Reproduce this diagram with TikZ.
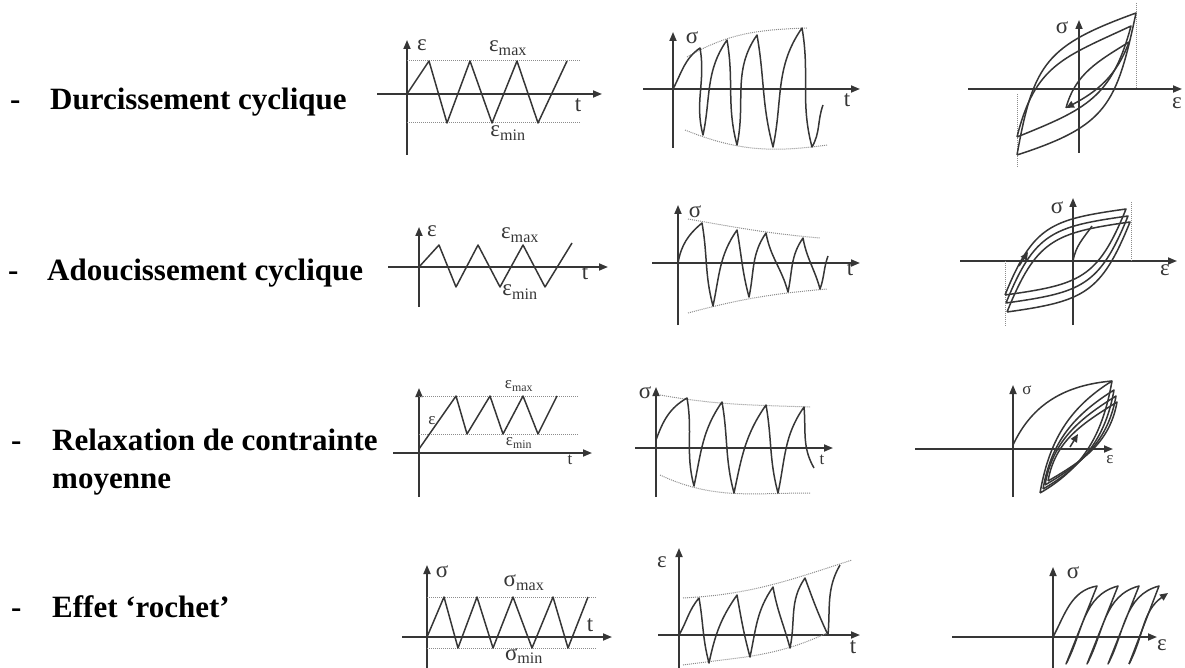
\documentclass[tikz,border=0pt]{standalone}
\usepackage{fontspec}
\setmainfont{Liberation Serif}
\usetikzlibrary{arrows.meta}
\definecolor{ink}{HTML}{363636}
\definecolor{dots}{HTML}{8C8C8C}

\begin{document}
\begin{tikzpicture}[x=1pt, y=1pt, every node/.style={inner sep=0pt}, ax/.style={-{Triangle[length=9pt,width=7pt]}, line width=1.7pt, draw=ink}, crv/.style={line width=1.5pt, draw=ink, line join=round}, tip/.style={crv, -{Triangle[length=8pt,width=7pt]}}, env/.style={densely dotted, line width=1pt, draw=dots}, rise/.style={out=78,in=235}, fall/.style={out=-80,in=105}, lbl/.style={font=\fontsize{23}{26}\selectfont, text=ink}, sml/.style={font=\fontsize{17}{20}\selectfont, text=ink}, row/.style={font=\fontsize{31}{36}\selectfont\bfseries, anchor=base west}]
\useasboundingbox (0,0) rectangle (1185,-668);
% left column: the four cases
\node[row] (d1) at (10,-110) {-};
\node[row] (t1) at (50,-110) {Durcissement cyclique};
\node[row] (d2) at (8,-280) {-};
\node[row] (t2) at (47,-280) {Adoucissement cyclique};
\node[row] (d3) at (11,-450) {-};
\node[row] (t3) at (52,-450) {Relaxation de contrainte};
\node[row] (t3b) at (52,-488) {moyenne};
\node[row] (d4) at (11,-617) {-};
\node[row] (t4) at (52,-617) {Effet ‘rochet’};
% row 1: imposed strain, stress in time, loops
\draw[ax] (407,-155) -- (407,-40);
\draw[ax] (377,-94) -- (602,-94);
\draw[env] (407,-61) -- (580,-61);
\draw[env] (407,-123) -- (580,-123);
\draw[crv] (407,-94) -- (429,-61) -- (447,-123) -- (470,-61) -- (492,-123) -- (517,-61) -- (538,-123) -- (567,-61);
\node[lbl] (e1) at (422,-45) {ε};
\node[lbl] (e1max) at (508,-48) {ε\textsubscript{max}};
\node[lbl] (e1min) at (508,-133) {ε\textsubscript{min}};
\node[lbl] (t1a) at (578,-105) {t};
\draw[ax] (673,-148) -- (673,-32);
\draw[ax] (643,-89) -- (860,-89);
\draw[env] (687,-57) to[out=30,in=182] (807,-28);
\draw[env] (685,-130) to[out=-22,in=188] (827,-145);
\draw[crv] (673,-89) to[out=62,in=215] (700,-48) to[fall] (703,-135) to[rise] (727,-40) to[fall] (737,-145) to[rise] (757,-35) to[fall] (773,-147) to[rise] (802,-28) to[fall] (812,-147) to[out=60,in=250] (823,-105);
\node[lbl] (s1) at (692,-38) {σ};
\node[lbl] (t1b) at (847,-100) {t};
\draw[ax] (1079,-153) -- (1079,-20);
\draw[ax] (968,-89) -- (1182,-89);
\draw[env] (1017,-94) -- (1017,-167);
\draw[env] (1136,-3) -- (1136,-89);
\draw[crv] (1017,-155) to[out=80,in=200,looseness=1.3] (1136,-13) to[out=258,in=18,looseness=1.3] (1017,-155);
\draw[crv] (1017,-137) to[out=76,in=205,looseness=1.2] (1131,-26) to[out=255,in=22,looseness=1.2] (1017,-137);
\draw[crv] (1066,-108) to[out=75,in=212] (1129,-42);
\draw[tip] (1129,-42) to[out=250,in=28] (1066,-108);
\node[lbl] (s1h) at (1062,-28) {σ};
\node[lbl] (e1h) at (1177,-103) {ε};
% row 2: same strain, stress decays
\draw[ax] (419,-307) -- (419,-227);
\draw[ax] (388,-267) -- (608,-267);
\draw[crv] (419,-267) -- (439,-245) -- (456,-287) -- (478,-245) -- (500,-287) -- (523,-245) -- (545,-287) -- (572,-243);
\node[lbl] (e2) at (432,-231) {ε};
\node[lbl] (e2max) at (520,-235) {ε\textsubscript{max}};
\node[lbl] (e2min) at (520,-292) {ε\textsubscript{min}};
\node[lbl] (t2a) at (585,-273) {t};
\draw[ax] (678,-325) -- (678,-205);
\draw[ax] (652,-263) -- (860,-263);
\draw[env] (688,-219) to[out=-10,in=175] (820,-238);
\draw[env] (688,-313) to[out=15,in=185] (827,-289);
\draw[crv] (678,-263) to[out=80,in=220] (702,-223) to[fall] (713,-306) to[rise] (737,-230) to[fall] (749,-297) to[rise] (766,-233) to[fall] (788,-292) to[rise] (803,-238) to[fall] (820,-289) to[out=70,in=250] (828,-256);
\node[lbl] (s2) at (695,-212) {σ};
\node[lbl] (t2b) at (850,-269) {t};
\draw[ax] (1073,-325) -- (1073,-198);
\draw[ax] (960,-261) -- (1177,-261);
\draw[env] (1005,-261) -- (1005,-327);
\draw[env] (1131,-202) -- (1131,-261);
\foreach \bx/\by/\tx/\ty in {1005/295/1126/209, 1006/303/1128/216, 1007/312/1130/222}
  \draw[crv] (\bx,-\by) to[out=68,in=188,looseness=1.3] (\tx,-\ty) to[out=248,in=8,looseness=1.3] (\bx,-\by);
\draw[crv] (1073,-261) to[out=80,in=235] (1092,-226);
\draw[tip] (1019,-266) -- (1028,-252);
\node[lbl] (s2h) at (1057,-208) {σ};
\node[lbl] (e2h) at (1165,-270) {ε};
% row 3: strain with a mean, mean stress relaxes
\draw[ax] (419,-497) -- (419,-388);
\draw[ax] (393,-453) -- (592,-453);
\draw[env] (419,-396) -- (578,-396);
\draw[env] (419,-434) -- (578,-434);
\draw[crv] (419,-449) -- (456,-396) -- (467,-434) -- (490,-396) -- (503,-434) -- (523,-396) -- (538,-434) -- (557,-396);
\node[sml] (e3) at (432,-421) {ε};
\node[sml] (e3max) at (519,-386) {ε\textsubscript{max}};
\node[sml] (e3min) at (519,-443) {ε\textsubscript{min}};
\node[sml] (t3a) at (570,-460) {t};
\draw[ax] (656,-497) -- (656,-387);
\draw[ax] (635,-448) -- (833,-448);
\draw[env] (660,-395) to[out=-10,in=178] (810,-407);
\draw[env] (660,-475) to[out=-25,in=180] (810,-493);
\draw[crv] (656,-440) to[out=70,in=210] (687,-398) to[fall] (694,-486) to[rise] (722,-402) to[fall] (734,-493) to[rise] (766,-405) to[fall] (778,-493) to[rise] (804,-407) to[out=-85,in=120] (814,-468);
\node[lbl] (s3) at (645,-393) {σ};
\node[sml] (t3b) at (822,-460) {t};
\draw[ax] (1013,-497) -- (1013,-385);
\draw[ax] (915,-449) -- (1113,-449);
\draw[crv] (1013,-445) to[out=65,in=185] (1112,-381);
\foreach \bx/\by/\tx/\ty in {1040/493/1112/381, 1043/489/1114/390, 1045/485/1116/396, 1048/481/1117/402}
  \draw[crv] (\bx,-\by) to[out=80,in=212] (\tx,-\ty) to[out=260,in=30] (\bx,-\by);
\draw[tip] (1070,-447) -- (1078,-434);
\node[sml] (s3h) at (1027,-390) {σ};
\node[sml] (e3h) at (1110,-460) {ε};
% row 4: imposed stress with a mean, strain ratchets
\draw[ax] (427,-668) -- (427,-565);
\draw[ax] (402,-637) -- (612,-637);
\draw[env] (427,-597) -- (597,-597);
\draw[env] (427,-648) -- (597,-648);
\draw[crv] (427,-637) -- (444,-597) -- (458,-648) -- (477,-597) -- (493,-648) -- (513,-597) -- (532,-648) -- (553,-597) -- (568,-648) -- (588,-597);
\node[lbl] (s4) at (442,-572) {σ};
\node[lbl] (s4max) at (524,-583) {σ\textsubscript{max}};
\node[lbl] (s4min) at (524,-656) {σ\textsubscript{min}};
\node[lbl] (t4a) at (590,-625) {t};
\draw[ax] (679,-668) -- (679,-548);
\draw[ax] (658,-635) -- (860,-635);
\draw[env] (683,-598) to[out=3,in=198] (852,-560);
\draw[env] (683,-665) to[out=8,in=205] (827,-633);
\draw[crv] (679,-635) to[out=60,in=230] (699,-598) to[fall] (709,-663) to[rise] (737,-595) to[fall] (750,-657) to[rise] (773,-587) to[fall] (790,-648) to[rise] (805,-578) to[out=-70,in=115] (828,-635) to[out=85,in=240] (840,-565);
\node[lbl] (e4) at (662,-562) {ε};
\node[lbl] (t4b) at (853,-647) {t};
\draw[ax] (1053,-668) -- (1053,-567);
\draw[ax] (952,-637) -- (1157,-637);
\draw[crv] (1053,-637) to[out=62,in=190] (1097,-586) -- (1066,-664) to[out=62,in=195] (1118,-586) -- (1087,-664) to[out=62,in=195] (1139,-586) -- (1108,-664) to[out=62,in=195] (1159,-586) -- (1129,-664);
\draw[tip] (1129,-664) to[out=62,in=215] (1168,-593);
\node[lbl] (s4h) at (1073,-573) {σ};
\node[lbl] (e4h) at (1162,-645) {ε};
\end{tikzpicture}
\end{document}
